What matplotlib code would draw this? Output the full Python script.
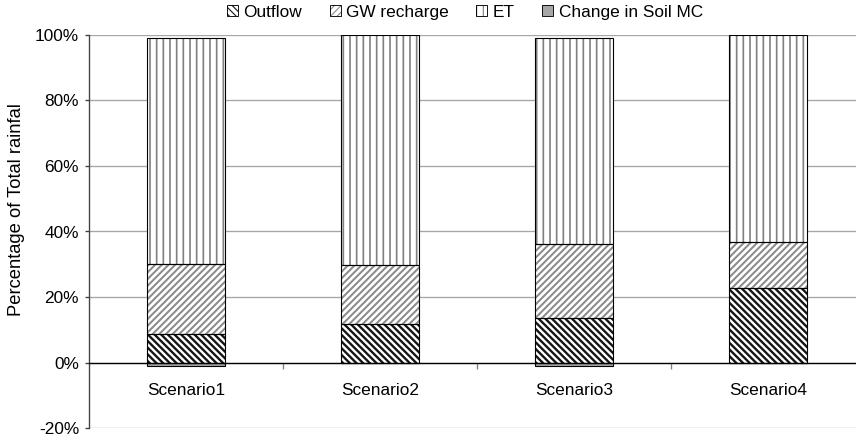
import matplotlib
matplotlib.use("Agg")
import matplotlib.pyplot as plt
from matplotlib.patches import Patch
from matplotlib.ticker import PercentFormatter, FixedLocator

# data (percent of total rainfall)
scenarios = ['Scenario1', 'Scenario2', 'Scenario3', 'Scenario4']
outflow = [8.9, 11.9, 13.7, 22.9]
gw_recharge = [21.3, 18.0, 22.5, 14.0]
et = [68.7, 70.1, 62.7, 63.1]
soil_mc = [-1.0, 0.0, -1.0, 0.0]

plt.rcParams['font.family'] = ['Liberation Sans', 'DejaVu Sans']
plt.rcParams['font.size'] = 15.5
plt.rcParams['axes.unicode_minus'] = False

DPI = 80
fig = plt.figure(figsize=(856 / DPI, 439 / DPI), dpi=DPI)
ax = fig.add_axes([89 / 856, 10.7 / 439, 776 / 856, 393.6 / 439])

x = range(len(scenarios))
width = 0.40

# series styles: (label, values, bottoms, face, hatch, hatch colour, hatch lw)
bottom_gw = outflow
bottom_et = [o + g for o, g in zip(outflow, gw_recharge)]
series = [
    ('Outflow', outflow, [0] * 4, 'white', '\\\\\\\\', '#141414', 2.1),
    ('GW recharge', gw_recharge, bottom_gw, 'white', '////', '#8a8a8a', 1.8),
    ('ET', et, bottom_et, 'white', '||', '#808080', 1.5),
    ('Change in Soil MC', soil_mc, [0] * 4, '#a6a6a6', None, '#a6a6a6', 1.0),
]

handles = []
for label, vals, bots, face, hatch, hcol, hlw in series:
    with plt.rc_context({'hatch.linewidth': hlw}):
        bars = ax.bar(x, vals, width, bottom=bots, color=face, hatch=hatch,
                      edgecolor=hcol, linewidth=0, zorder=3)
        for b in bars:
            if hasattr(b, 'set_hatch_linewidth'):
                b.set_hatch_linewidth(hlw)
        # black outline on top
        ax.bar(x, vals, width, bottom=bots, fill=False, edgecolor='black',
               linewidth=1.0, zorder=4)
    with plt.rc_context({'hatch.linewidth': 1.0}):
        h = Patch(facecolor=face, hatch=hatch, edgecolor=hcol, linewidth=0)
        if hasattr(h, 'set_hatch_linewidth'):
            h.set_hatch_linewidth(1.0)
    box = Patch(fill=False, edgecolor='black', linewidth=0.8)
    handles.append(((h, box), label))

ax.set_xlim(-0.5, 3.5)
ax.set_ylim(-20, 100)
ax.yaxis.set_major_locator(FixedLocator([-20, 0, 20, 40, 60, 80, 100]))
ax.yaxis.set_major_formatter(PercentFormatter(decimals=0))
ax.grid(axis='y', color='#a6a6a6', linewidth=1.2, zorder=0)
ax.set_axisbelow(True)

for s in ['top', 'right']:
    ax.spines[s].set_visible(False)
ax.spines['bottom'].set_position(('data', 0))
ax.spines['bottom'].set_color('black')
ax.spines['bottom'].set_linewidth(1.2)
ax.spines['bottom'].set_zorder(5)
ax.spines['left'].set_color('#404040')
ax.spines['left'].set_linewidth(1.2)

ax.set_xticks(list(x))
ax.set_xticklabels(scenarios)
ax.tick_params(axis='x', which='major', length=0, pad=18)
ax.set_xticks([0.5, 1.5, 2.5], minor=True)
ax.tick_params(axis='x', which='minor', length=5, width=1.2, color='#808080',
               direction='out')
ax.tick_params(axis='y', length=4, width=1.2, color='#404040', pad=5)

ax.set_ylabel('Percentage of Total rainfal', fontsize=16.5)
ax.yaxis.set_label_coords(-0.082, 0.555)

fig.legend([h for h, _ in handles], [l for _, l in handles], loc='center',
           bbox_to_anchor=(0.543, 0.972), ncol=4, frameon=False,
           handlelength=0.65, handleheight=0.65, handletextpad=0.3,
           columnspacing=1.6, borderaxespad=0)

fig.savefig('out.png', dpi=DPI)
